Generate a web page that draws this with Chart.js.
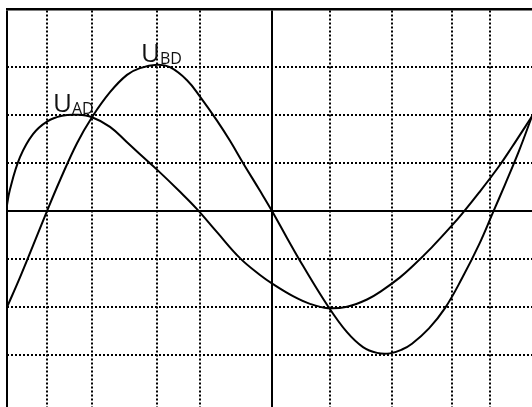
<!DOCTYPE html>
<html lang="ro">
<head>
  <meta charset="UTF-8" />
  <title>UAD si UBD</title>
  <script src="https://cdn.jsdelivr.net/npm/chart.js"></script>
  <style>
    html, body { margin: 0; padding: 0; background: #fff; }
    canvas { display: block; }
  </style>
</head>
<body>
  <canvas id="grafic" width="532" height="407"></canvas>

  <script>
    // timp (unitati arbitrare de la axa din stanga) si tensiuni in diviziuni
    const tAD = [-1, 3, 13, 26, 40, 55, 70, 85, 103, 120, 133, 150, 173, 190, 210, 233, 253, 266, 286, 303, 321, 340, 360, 376, 393, 405, 425, 445, 455, 472, 492, 505, 525];
    const uAD = [0, 0.45, 1.12, 1.6, 1.86, 1.98, 2.0, 1.95, 1.75, 1.43, 1.18, 0.86, 0.4, 0.04, -0.44, -0.98, -1.33, -1.52, -1.77, -1.93, -2.02, -1.99, -1.84, -1.64, -1.38, -1.16, -0.75, -0.3, -0.06, 0.38, 0.93, 1.33, 1.97];

    const tBD = [0, 13, 26, 40, 53, 70, 85, 103, 120, 133, 150, 163, 180, 193, 210, 223, 236, 253, 265, 280, 296, 321, 340, 356, 370, 383, 395, 405, 422, 438, 455, 472, 486, 498, 512, 525];
    const uBD = [-2.0, -1.38, -0.72, 0, 0.64, 1.41, 1.95, 2.47, 2.83, 2.97, 3.04, 2.99, 2.72, 2.38, 1.88, 1.46, 1.0, 0.42, 0, -0.56, -1.14, -1.98, -2.52, -2.83, -2.95, -2.96, -2.88, -2.76, -2.44, -2.02, -1.4, -0.7, -0.03, 0.55, 1.25, 1.97];

    // liniile grilei; cele din axe* sunt trase continuu
    const gridX = [0, 40, 85, 150, 193, 265, 323, 385, 445, 483];
    const axeX = [0, 265];
    const gridY = [-3, -2, -1, 0, 1, 2, 3];
    const axeY = [0];

    const puncte = (t, u) => t.map((v, i) => ({ x: v, y: u[i] }));

    const esteAxa = (lista) => (ctx) => ctx.tick !== undefined && lista.includes(ctx.tick.value);

    const axaX = esteAxa(axeX);
    const axaY = esteAxa(axeY);

    // eticheta U cu indice, ancorata in coordonatele graficului
    const etichete = {
      id: 'etichete',
      afterDatasetsDraw(chart) {
        const { ctx, scales: { x, y } } = chart;
        const lista = [
          { t: 46, u: 2.06, sub: 'AD' },
          { t: 134, u: 3.1, sub: 'BD' }
        ];
        ctx.save();
        ctx.fillStyle = '#111';
        ctx.textBaseline = 'alphabetic';
        lista.forEach(e => {
          const px = x.getPixelForValue(e.t);
          const py = y.getPixelForValue(e.u);
          ctx.font = '26px "Open Sans"';
          ctx.fillText('U', px, py);
          const w = ctx.measureText('U').width;
          ctx.font = '16px "Open Sans"';
          ctx.fillText(e.sub, px + w, py + 2);
        });
        ctx.restore();
      }
    };

    const stilCurba = {
      borderColor: '#000',
      borderWidth: 2,
      pointRadius: 0,
      tension: 0.4
    };

    new Chart(document.getElementById('grafic'), {
      type: 'line',
      data: {
        datasets: [
          { label: 'UAD', data: puncte(tAD, uAD), ...stilCurba },
          { label: 'UBD', data: puncte(tBD, uBD), ...stilCurba }
        ]
      },
      options: {
        responsive: false,
        animation: false,
        layout: { padding: { left: 7, top: 9, right: 0, bottom: 0 } },
        plugins: {
          legend: { display: false },
          tooltip: { enabled: false }
        },
        scales: {
          x: {
            type: 'linear',
            position: 'top',
            min: 0,
            max: 525,
            afterBuildTicks: (s) => { s.ticks = gridX.map(v => ({ value: v })); },
            ticks: { display: false },
            grid: {
              color: '#000',
              lineWidth: 2,
              drawTicks: false
            },
            border: {
              display: true,
              color: '#000',
              width: 2.5,
              dash: (ctx) => axaX(ctx) ? [] : [2, 2]
            }
          },
          y: {
            type: 'linear',
            min: -4.075,
            max: 4.2,
            afterBuildTicks: (s) => { s.ticks = gridY.map(v => ({ value: v })); },
            ticks: { display: false },
            grid: {
              color: '#000',
              lineWidth: 2,
              drawTicks: false
            },
            border: {
              display: false,
              dash: (ctx) => axaY(ctx) ? [] : [2, 2]
            }
          }
        }
      },
      plugins: [etichete]
    });
  </script>
</body>
</html>
